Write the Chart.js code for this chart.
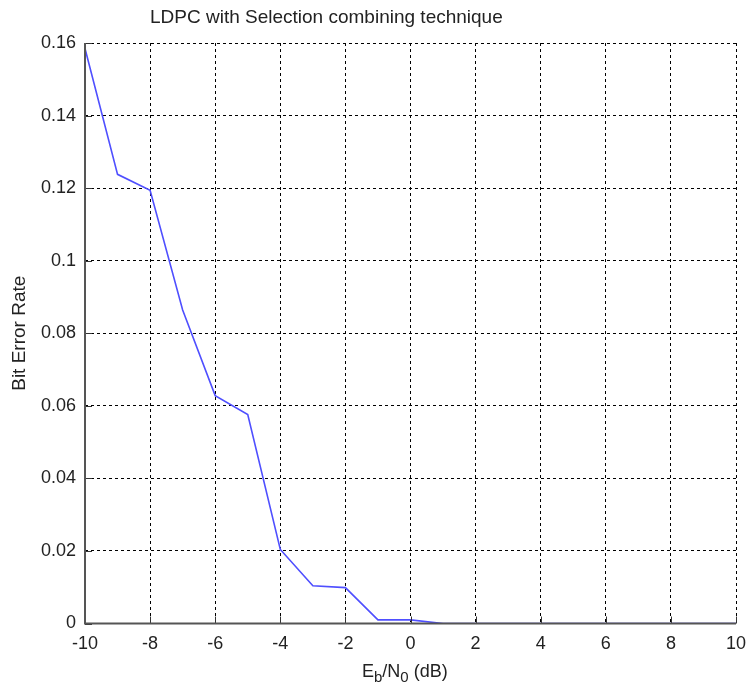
<!DOCTYPE html>
<html>
<head>
<meta charset="utf-8">
<script src="https://cdn.jsdelivr.net/npm/chart.js@4.4.1/dist/chart.umd.min.js"></script>
<style>
    body { margin: 0; background: #fff; font-family: "Liberation Sans", Arial, sans-serif; }
    #wrap { position: relative; width: 749px; height: 693px; }
    #title { position: absolute; top: 6px; left: 150px; font-size: 19px; color: #222; white-space: nowrap; }
    #xlabel { position: absolute; top: 661px; left: 362px; font-size: 18px; color: #222; white-space: nowrap; }
    #xlabel sub { font-size: 15px; }
</style>
</head>
<body>
<div id="wrap">
    <canvas id="chart" width="749" height="693"></canvas>
    <div id="title">LDPC with Selection combining technique</div>
    <div id="xlabel">E<sub>b</sub>/N<sub>0</sub> (dB)</div>
</div>
<script>
// Data
const ebno = [-10, -9, -8, -7, -6, -5, -4, -3, -2, -1, 0, 1, 2, 3, 4, 5, 6, 7, 8, 9, 10];
const ber = [0.1585, 0.1238, 0.1194, 0.0864, 0.0628, 0.0576, 0.0204, 0.0104, 0.0099, 0.0010, 0.0010, 0, 0, 0, 0, 0, 0, 0, 0, 0, 0];
const xTicks = [-10, -8, -6, -4, -2, 0, 2, 4, 6, 8, 10];
const yTicks = [0, 0.02, 0.04, 0.06, 0.08, 0.1, 0.12, 0.14, 0.16];

const font = { family: "'Liberation Sans', Arial, sans-serif", size: 18 };

// Small inward ticks and solid left/bottom axis lines, like MATLAB
const axisBox = {
    id: "axisBox",
    afterDraw: (chart) => {
        const { ctx, chartArea: a, scales: { x, y } } = chart;
        ctx.save();
        ctx.strokeStyle = "#333";
        ctx.lineWidth = 1;
        for (const v of xTicks) {
            const px = Math.round(x.getPixelForValue(v)) + 0.5;
            ctx.beginPath(); ctx.moveTo(px, a.bottom); ctx.lineTo(px, a.bottom - 7); ctx.stroke();
        }
        for (const v of yTicks) {
            const py = Math.round(y.getPixelForValue(v)) + 0.5;
            ctx.beginPath(); ctx.moveTo(a.left, py); ctx.lineTo(a.left + 7, py); ctx.stroke();
        }
        ctx.strokeStyle = "#555";
        ctx.lineWidth = 2;
        ctx.beginPath();
        ctx.moveTo(a.left, a.top);
        ctx.lineTo(a.left, a.bottom);
        ctx.lineTo(a.right, a.bottom);
        ctx.stroke();
        ctx.restore();
    }
};

new Chart(document.getElementById("chart"), {
    type: "line",
    data: {
        datasets: [{
            data: ebno.map((v, i) => ({ x: v, y: ber[i] })),
            borderColor: "#4f4fff",
            borderWidth: 1.6,
            pointRadius: 0,
            tension: 0,
            fill: false
        }]
    },
    options: {
        responsive: false,
        animation: false,
        layout: { padding: { top: 43, right: 13, left: 0, bottom: 0 } },
        plugins: { legend: { display: false }, tooltip: { enabled: false } },
        scales: {
            x: {
                type: "linear",
                min: -10, max: 10,
                afterBuildTicks: s => { s.ticks = xTicks.map(v => ({ value: v })); },
                afterFit: s => { s.height = 69.5; s.paddingRight = 0; s.paddingLeft = 0; },
                ticks: { color: "#222", font: font, padding: 10, maxRotation: 0 },
                grid: { color: "#000", lineWidth: 1, drawTicks: false },
                border: { display: false, dash: [3, 3] }
            },
            y: {
                type: "linear",
                min: 0, max: 0.16,
                afterBuildTicks: s => { s.ticks = yTicks.map(v => ({ value: v })); },
                afterFit: s => { s.width = 85; s.paddingTop = 0; s.paddingBottom = 0; },
                ticks: { color: "#222", font: font, padding: 9, callback: v => String(+v.toFixed(2)) },
                grid: { color: "#000", lineWidth: 1, drawTicks: false },
                border: { display: false, dash: [3, 3] },
                title: { display: true, text: "Bit Error Rate", color: "#222", font: { family: font.family, size: 19 }, padding: { top: 8, bottom: 0 } }
            }
        }
    },
    plugins: [axisBox]
});
</script>
</body>
</html>
